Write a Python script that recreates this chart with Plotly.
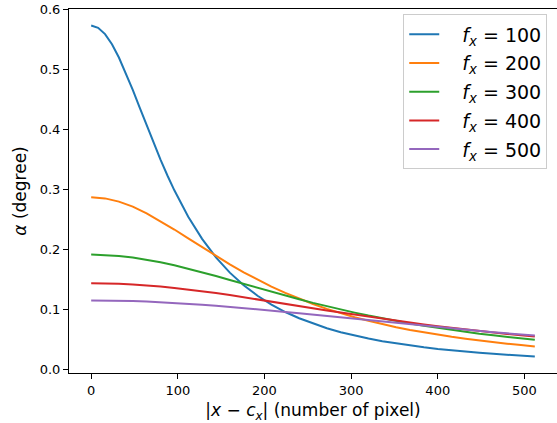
import plotly.graph_objects as go

x_px = [0, 16, 32, 48, 64, 80, 96, 112, 128, 144, 160, 176, 192, 208, 224, 240,
        256, 272, 288, 304, 320, 336, 352, 368, 384, 400, 416, 432, 448, 464, 480, 496, 512]

x_px_f100 = [0, 8, 16, 24, 32, 40, 48, 56, 64, 72, 80, 88, 96, 112, 128, 144, 160, 176, 192,
             208, 224, 240, 256, 272, 288, 304, 320, 336, 352, 368, 384, 400, 416, 432, 448,
             464, 480, 496, 512]
alpha_f100 = [0.5730, 0.5693, 0.5587, 0.5418, 0.5197, 0.4939, 0.4657, 0.4362, 0.4065, 0.3773,
              0.3494, 0.3229, 0.2982, 0.2542, 0.2172, 0.1864, 0.1609, 0.1398, 0.1223, 0.1076,
              0.0952, 0.0848, 0.0759, 0.0682, 0.0616, 0.0559, 0.0510, 0.0466, 0.0428, 0.0394,
              0.0364, 0.0337, 0.0313, 0.0291, 0.0272, 0.0254, 0.0238, 0.0224, 0.0211]
alpha_f200 = [0.2865, 0.2847, 0.2793, 0.2709, 0.2599, 0.2470, 0.2328, 0.2181, 0.2032, 0.1887,
              0.1747, 0.1615, 0.1491, 0.1376, 0.1271, 0.1174, 0.1086, 0.1005, 0.0932, 0.0865,
              0.0805, 0.0749, 0.0699, 0.0653, 0.0611, 0.0573, 0.0538, 0.0506, 0.0476, 0.0449,
              0.0424, 0.0401, 0.0379]
alpha_f300 = [0.1910, 0.1904, 0.1888, 0.1862, 0.1827, 0.1783, 0.1732, 0.1676, 0.1616, 0.1552,
              0.1487, 0.1421, 0.1355, 0.1290, 0.1226, 0.1165, 0.1105, 0.1048, 0.0994, 0.0942,
              0.0893, 0.0847, 0.0804, 0.0762, 0.0724, 0.0688, 0.0653, 0.0621, 0.0591, 0.0563,
              0.0536, 0.0512, 0.0488]
alpha_f400 = [0.1432, 0.1430, 0.1423, 0.1412, 0.1397, 0.1377, 0.1354, 0.1328, 0.1299, 0.1268,
              0.1235, 0.1200, 0.1164, 0.1128, 0.1090, 0.1053, 0.1016, 0.0979, 0.0943, 0.0908,
              0.0873, 0.0840, 0.0807, 0.0776, 0.0745, 0.0716, 0.0688, 0.0661, 0.0635, 0.0611,
              0.0587, 0.0564, 0.0543]
alpha_f500 = [0.1146, 0.1145, 0.1141, 0.1135, 0.1127, 0.1117, 0.1105, 0.1091, 0.1075, 0.1058,
              0.1039, 0.1020, 0.0999, 0.0977, 0.0954, 0.0931, 0.0908, 0.0884, 0.0860, 0.0837,
              0.0813, 0.0789, 0.0766, 0.0743, 0.0721, 0.0699, 0.0677, 0.0656, 0.0636, 0.0616,
              0.0596, 0.0578, 0.0559]

series_names = ["100", "200", "300", "400", "500"]
series_x = [x_px_f100, x_px, x_px, x_px, x_px]
series_values = [alpha_f100, alpha_f200, alpha_f300, alpha_f400, alpha_f500]
colors = ["#1f77b4", "#ff7f0e", "#2ca02c", "#d62728", "#9467bd"]

fig = go.Figure()
for name, xs, vals, c in zip(series_names, series_x, series_values, colors):
    fig.add_trace(go.Scatter(
        x=xs, y=vals, mode="lines",
        line=dict(color=c, width=2),
        name=f"&nbsp;&nbsp;&nbsp;<i>f</i><sub><i>x</i></sub> = {name}",
        legendgroup=name,
    ))

axis_common = dict(
    showline=True, linecolor="black", linewidth=1, mirror=True,
    ticks="outside", ticklen=5, tickwidth=1, tickcolor="black",
    showgrid=False, zeroline=False, automargin=False,
    ticklabeloverflow="allow",
    tickfont=dict(family="DejaVu Sans", size=13, color="black"),
)

fig.update_layout(
    width=557, height=423,
    margin=dict(l=69, r=0, t=9, b=50),
    plot_bgcolor="white", paper_bgcolor="white",
    font=dict(family="DejaVu Sans", color="black"),
    xaxis=dict(range=[-25.6, 537.6], dtick=100, tick0=0,
               title=dict(text="|<i>x</i> − <i>c</i><sub><i>x</i></sub>| (number of pixel)",
                          font=dict(size=17), standoff=11),
               **axis_common),
    yaxis=dict(range=[-0.0065, 0.6006], dtick=0.1, tick0=0, tickformat=".1f",
               title=dict(text="<i>α</i> (degree)", font=dict(size=17), standoff=8),
               **axis_common),
    legend=dict(
        x=0.98, y=0.985, xanchor="right", yanchor="top",
        bgcolor="rgba(255,255,255,0.8)", bordercolor="#cccccc", borderwidth=1,
        font=dict(family="DejaVu Sans", size=19),
        tracegroupgap=1,
    ),
    showlegend=True,
)

fig.write_html("out.html", config={"displayModeBar": False},
               post_script="document.body.style.margin='0px';")
